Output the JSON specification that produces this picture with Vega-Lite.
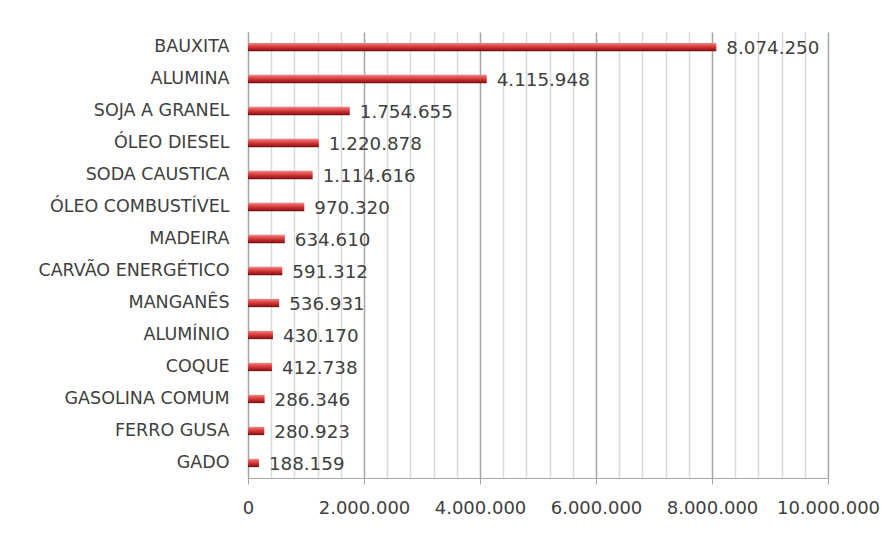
{
  "$schema": "https://vega.github.io/schema/vega-lite/v6.json",
  "width": 580,
  "height": 446,
  "autosize": {"type": "none"},
  "padding": {"left": 248, "top": 32, "right": 61, "bottom": 56},
  "background": "white",
  "config": {
    "view": {"stroke": null},
    "locale": {"number": {"decimal": ",", "thousands": ".", "grouping": [3], "currency": ["R$", ""]}},
    "font": "DejaVu Sans"
  },
  "data": {
    "values": [
      {"produto": "BAUXITA", "valor": 8074250},
      {"produto": "ALUMINA", "valor": 4115948},
      {"produto": "SOJA A GRANEL", "valor": 1754655},
      {"produto": "ÓLEO DIESEL", "valor": 1220878},
      {"produto": "SODA CAUSTICA", "valor": 1114616},
      {"produto": "ÓLEO COMBUSTÍVEL", "valor": 970320},
      {"produto": "MADEIRA", "valor": 634610},
      {"produto": "CARVÃO ENERGÉTICO", "valor": 591312},
      {"produto": "MANGANÊS", "valor": 536931},
      {"produto": "ALUMÍNIO", "valor": 430170},
      {"produto": "COQUE", "valor": 412738},
      {"produto": "GASOLINA COMUM", "valor": 286346},
      {"produto": "FERRO GUSA", "valor": 280923},
      {"produto": "GADO", "valor": 188159}
    ]
  },
  "encoding": {
    "y": {
      "field": "produto",
      "type": "nominal",
      "sort": null,
      "scale": {"paddingInner": 0.74, "paddingOuter": 0.34},
      "axis": {
        "title": null,
        "ticks": false,
        "domain": true,
        "domainColor": "#a6a6a6",
        "labelFontSize": 17.5,
        "labelColor": "#404040",
        "labelPadding": 19,
        "labelLimit": 300,
        "labelFont": "DejaVu Sans"
      }
    },
    "x": {
      "field": "valor",
      "type": "quantitative",
      "scale": {"domain": [0, 10000000], "nice": false},
      "axis": {
        "title": null,
        "values": [0, 400000, 800000, 1200000, 1600000, 2000000, 2400000, 2800000, 3200000, 3600000, 4000000, 4400000, 4800000, 5200000, 5600000, 6000000, 6400000, 6800000, 7200000, 7600000, 8000000, 8400000, 8800000, 9200000, 9600000, 10000000],
        "format": ",d",
        "labelExpr": "datum.value % 2000000 === 0 ? datum.label : ''",
        "grid": true,
        "gridColor": {"condition": {"test": "datum.value % 2000000 === 0", "value": "#a6a6a6"}, "value": "#d9d9d9"},
        "gridWidth": 1.5,
        "tickColor": "#a6a6a6",
        "tickOpacity": {"condition": {"test": "datum.value % 2000000 === 0", "value": 1}, "value": 0},
        "tickSize": 6,
        "domainColor": "#a6a6a6",
        "labelFontSize": 18,
        "labelColor": "#404040",
        "labelPadding": 15,
        "labelFont": "DejaVu Sans",
        "labelFlush": false
      }
    }
  },
  "layer": [
    {
      "mark": {
        "type": "bar",
        "fill": {
          "gradient": "linear",
          "x1": 0, "y1": 0, "x2": 0, "y2": 1,
          "stops": [
            {"offset": 0, "color": "#ef8a8a"},
            {"offset": 0.35, "color": "#e04848"},
            {"offset": 0.7, "color": "#b82424"},
            {"offset": 1, "color": "#6e0d0d"}
          ]
        }
      }
    },
    {
      "mark": {"type": "text", "align": "left", "baseline": "middle", "dx": 10, "dy": 2, "fontSize": 18.3, "color": "#404040", "font": "DejaVu Sans"},
      "encoding": {"text": {"field": "valor", "type": "quantitative", "format": ",d"}}
    }
  ]
}
